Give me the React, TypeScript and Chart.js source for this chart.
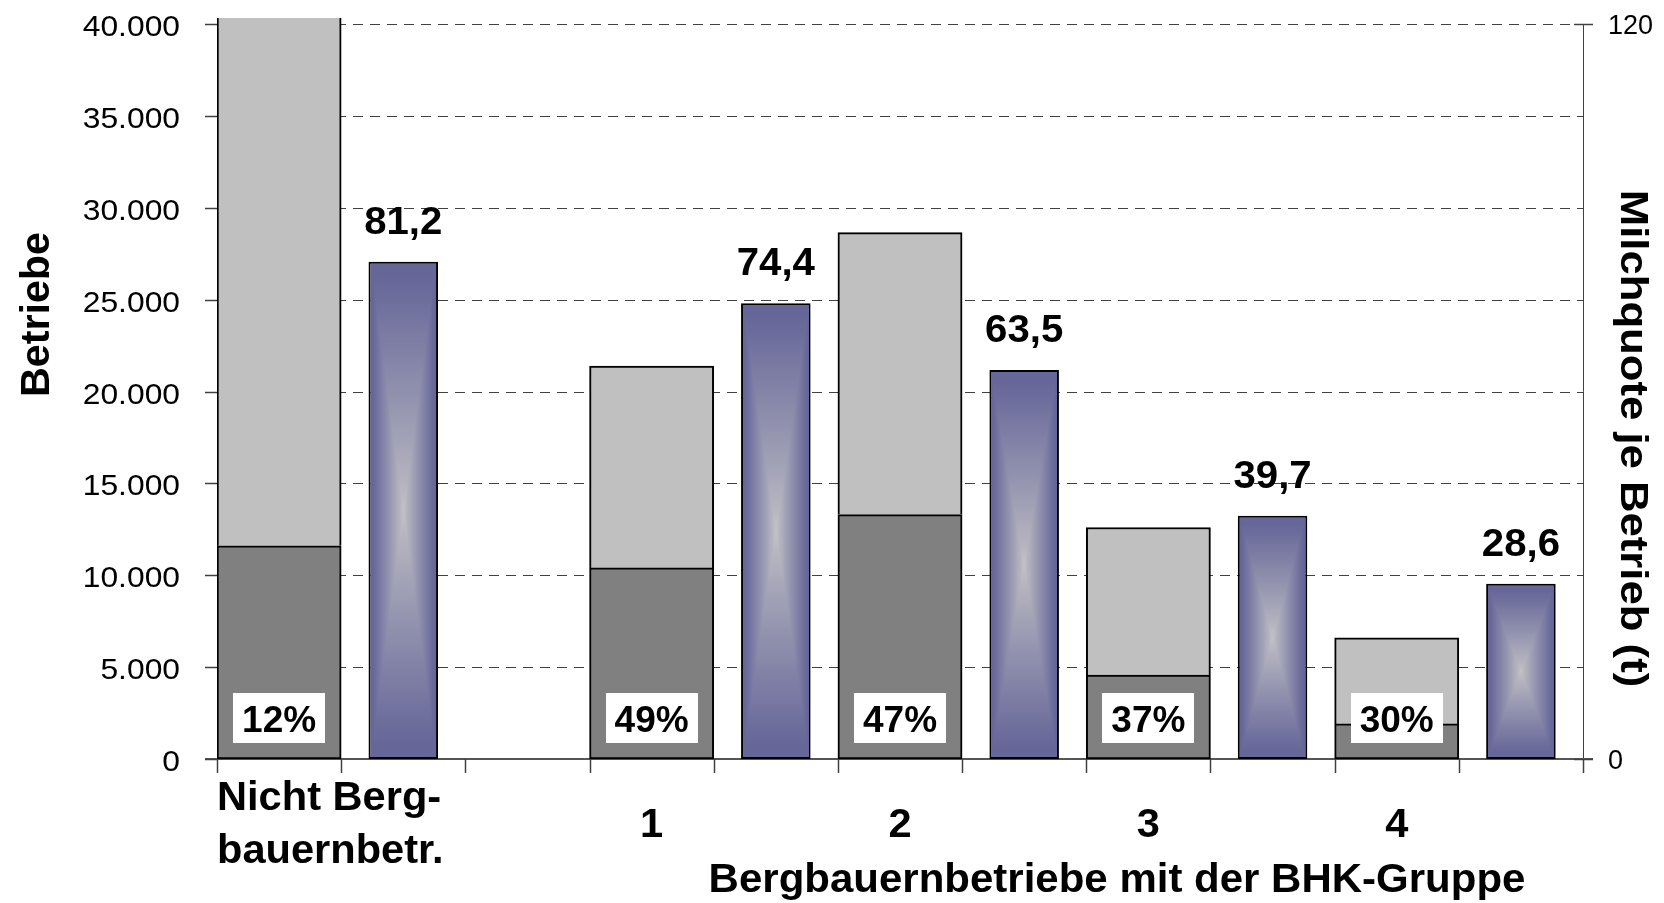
import React, { useEffect, useRef } from "react";
import { Chart, registerables } from "chart.js";

Chart.register(...registerables);

// ---------- data ----------
const groupLabels: string[][] = [["Nicht Berg-", "bauernbetr."], ["1"], ["2"], ["3"], ["4"]];
const betriebeMitMilch = [11600, 10400, 13300, 4570, 1910]; // dark grey part
const betriebeGesamt = [96700, 21380, 28650, 12600, 6600]; // total height of grey bar
const anteilLabels = ["12%", "49%", "47%", "37%", "30%"];
const milchquote = [81.2, 74.4, 63.5, 39.7, 28.6];
const leftTicks = [0, 5000, 10000, 15000, 20000, 25000, 30000, 35000, 40000];
const rightTicks = [0, 120];
const yTitle = "Betriebe";
const y2Title = "Milchquote je Betrieb (t)";
const xTitle = "Bergbauernbetriebe mit der BHK-Gruppe";

// category slots: each group = grey slot + blue slot, one empty slot after the first group
const greySlots = [0, 3, 5, 7, 9];
const SLOT_COUNT = 11;

const slotNames: string[] = Array.from({ length: SLOT_COUNT }, (_, i) => String(i));
const darkData: (number | null)[] = Array(SLOT_COUNT).fill(null);
const lightData: (number | null)[] = Array(SLOT_COUNT).fill(null);
const blueData: (number | null)[] = Array(SLOT_COUNT).fill(null);
greySlots.forEach((s, i) => {
  darkData[s] = betriebeMitMilch[i];
  lightData[s] = betriebeGesamt[i] - betriebeMitMilch[i];
  blueData[s + 1] = milchquote[i];
});

const FONT = '"Liberation Sans", Arial, Helvetica, sans-serif';

function fmtDE(v: number): string {
  const s = String(Math.round(v));
  return s.replace(/\B(?=(\d{3})+(?!\d))/g, ".");
}

function drawText(
  ctx: CanvasRenderingContext2D,
  s: string,
  x: number,
  y: number,
  size: number,
  bold: boolean,
  align: CanvasTextAlign,
  sx = 1,
  rot = 0,
  baseOff = 0
) {
  ctx.save();
  ctx.translate(x, y);
  if (rot) ctx.rotate(rot);
  ctx.scale(sx, 1);
  ctx.font = `${bold ? "bold " : ""}${size}px ${FONT}`;
  ctx.textAlign = align;
  ctx.textBaseline = "alphabetic";
  ctx.fillStyle = "#000";
  ctx.fillText(s, 0, baseOff);
  ctx.restore();
}

const AXIS_COLOR = "#404040";

const decorPlugin = {
  id: "decor",
  beforeDatasetsDraw(chart: any) {
    const ctx: CanvasRenderingContext2D = chart.ctx;
    const { left, right, bottom, top } = chart.chartArea;
    const ys = chart.scales.y;
    ctx.save();
    // dashed grid lines
    ctx.strokeStyle = AXIS_COLOR;
    ctx.lineWidth = 1;
    ctx.setLineDash([10, 7]);
    leftTicks.forEach((v) => {
      if (v === 0) return;
      const py = Math.round(ys.getPixelForValue(v)) + 0.5;
      ctx.beginPath();
      ctx.moveTo(left, py);
      ctx.lineTo(right, py);
      ctx.stroke();
    });
    ctx.setLineDash([]);
    // left axis line
    ctx.beginPath();
    ctx.moveTo(left + 0.5, top);
    ctx.lineTo(left + 0.5, bottom);
    ctx.stroke();
    // right axis line
    ctx.beginPath();
    ctx.moveTo(Math.round(right) + 0.5, top);
    ctx.lineTo(Math.round(right) + 0.5, bottom);
    ctx.stroke();
    // x axis line
    ctx.lineWidth = 2;
    ctx.strokeStyle = "#555";
    ctx.beginPath();
    ctx.moveTo(left - 12, Math.round(bottom));
    ctx.lineTo(right + 10, Math.round(bottom));
    ctx.stroke();
    ctx.restore();
  },
  afterDatasetsDraw(chart: any) {
    const ctx: CanvasRenderingContext2D = chart.ctx;
    const { left, right, bottom, top } = chart.chartArea;
    const xs = chart.scales.x;
    const ys = chart.scales.y;
    const y2 = chart.scales.y2;

    // gradient fill for the Milchquote bars (rectangular "from center" gradient)
    const meta = chart.getDatasetMeta(2);
    const dark = [102, 102, 153];
    const light = [194, 194, 198];
    meta.data.forEach((el: any, i: number) => {
      if (blueData[i] == null) return;
      const p = el.getProps(["x", "y", "base", "width"], true);
      const bw = 2;
      const L = Math.round(p.x - p.width / 2 + bw);
      const R = Math.round(p.x + p.width / 2 - bw);
      const T = Math.round(p.y + bw);
      const B = Math.round(p.base - bw);
      const w = R - L;
      const h = B - T;
      if (w <= 0 || h <= 0) return;
      const off = document.createElement("canvas");
      off.width = w;
      off.height = h;
      const octx = off.getContext("2d")!;
      const img = octx.createImageData(w, h);
      for (let yy = 0; yy < h; yy++) {
        const dy = Math.abs(yy + 0.5 - h / 2) / (h / 2);
        for (let xx = 0; xx < w; xx++) {
          const dx = Math.abs(xx + 0.5 - w / 2) / (w / 2);
          let t = Math.max(dx, dy);
          t = Math.min(1, Math.pow(t, 0.9) * 1.05);
          const k = (yy * w + xx) * 4;
          img.data[k] = light[0] + (dark[0] - light[0]) * t;
          img.data[k + 1] = light[1] + (dark[1] - light[1]) * t;
          img.data[k + 2] = light[2] + (dark[2] - light[2]) * t;
          img.data[k + 3] = 255;
        }
      }
      octx.putImageData(img, 0, 0);
      ctx.drawImage(off, L, T);
    });

    ctx.save();
    ctx.strokeStyle = AXIS_COLOR;
    ctx.lineWidth = 1.5;
    // left axis ticks + labels
    leftTicks.forEach((v) => {
      const py = Math.round(ys.getPixelForValue(v));
      ctx.beginPath();
      ctx.moveTo(left - 12, py + 0.5);
      ctx.lineTo(left, py + 0.5);
      ctx.stroke();
      drawText(ctx, fmtDE(v), left - 37, py + 11.5, 30, false, "right", 1.06);
    });
    // right axis ticks + labels
    rightTicks.forEach((v) => {
      const py = Math.round(y2.getPixelForValue(v));
      ctx.beginPath();
      ctx.moveTo(right - 9, py + 0.5);
      ctx.lineTo(right + 10, py + 0.5);
      ctx.stroke();
      drawText(ctx, String(v), right + 25, py + 10, 27, false, "left");
    });
    // x axis tick marks at slot boundaries
    const slotW = xs.getPixelForValue(1) - xs.getPixelForValue(0);
    ctx.lineWidth = 1.5;
    for (let i = 0; i <= SLOT_COUNT; i++) {
      const px = Math.round(xs.getPixelForValue(0) - slotW / 2 + i * slotW) + 0.5;
      ctx.beginPath();
      ctx.moveTo(px, bottom);
      ctx.lineTo(px, bottom + 14);
      ctx.stroke();
    }
    ctx.restore();

    // percentage boxes, value labels, category labels
    greySlots.forEach((s, i) => {
      const cx = xs.getPixelForValue(s);
      ctx.fillStyle = "#fff";
      ctx.fillRect(Math.round(cx - 46), Math.round(bottom - 66.5), 92, 50);
      drawText(ctx, anteilLabels[i], cx, bottom - 27.5, 37, true, "center");
      const bx = xs.getPixelForValue(s + 1);
      const by = y2.getPixelForValue(milchquote[i]);
      drawText(ctx, milchquote[i].toFixed(1).replace(".", ","), bx, by - 28, 39, true, "center", 1.03);
      const lines = groupLabels[i];
      if (lines.length > 1) {
        const lx = xs.getPixelForValue(s) - slotW / 2;
        drawText(ctx, lines[0], lx, bottom + 51, 40, true, "left", 1.04);
        drawText(ctx, lines[1], lx, bottom + 104, 40, true, "left", 1.04);
      } else {
        drawText(ctx, lines[0], cx, bottom + 78, 40, true, "center", 1.04);
      }
    });

    // axis titles
    drawText(ctx, xTitle, left + 900, bottom + 133, 40, true, "center", 1.05);
    drawText(ctx, yTitle, 35, (top + bottom) / 2 - 77, 40, true, "center", 1.03, -Math.PI / 2, 0.358 * 40);
    drawText(ctx, y2Title, right + 52, (top + bottom) / 2 + 47, 39, true, "center", 1.12, Math.PI / 2, 0.358 * 39);
  },
};

export default function App() {
  const ref = useRef<HTMLCanvasElement | null>(null);
  useEffect(() => {
    if (!ref.current) return;
    const common = {
      borderColor: "#000",
      borderWidth: 2,
      categoryPercentage: 1,
      skipNull: true,
      clip: { left: 0, right: 0, top: 6, bottom: 2 },
    };
    const chart = new Chart(ref.current, {
      type: "bar",
      data: {
        labels: slotNames,
        datasets: [
          {
            ...common,
            label: "Betriebe mit Milchquote",
            data: darkData,
            yAxisID: "y",
            stack: "g",
            backgroundColor: "#808080",
            borderSkipped: false,
            barPercentage: 1,
          } as any,
          {
            ...common,
            label: "Betriebe gesamt",
            data: lightData,
            yAxisID: "y",
            stack: "g",
            backgroundColor: "#C0C0C0",
            borderSkipped: "start",
            barPercentage: 1,
          } as any,
          {
            ...common,
            label: "Milchquote je Betrieb",
            data: blueData,
            yAxisID: "y2",
            stack: "b",
            backgroundColor: "#666699",
            borderSkipped: false,
            barPercentage: 0.56,
          } as any,
        ],
      },
      options: {
        responsive: false,
        maintainAspectRatio: false,
        animation: false,
        layout: { padding: { left: 217, right: 81, top: 24, bottom: 144 } },
        plugins: { legend: { display: false }, tooltip: { enabled: false } },
        scales: {
          x: { display: false, stacked: true },
          y: { display: false, stacked: true, min: 0, max: 40000 },
          y2: { display: false, position: "right", min: 0, max: 120 },
        },
      },
      plugins: [decorPlugin],
    } as any);
    return () => chart.destroy();
  }, []);
  return (
    <div style={{ position: "fixed", left: 0, top: 0, width: 1664, height: 903, background: "#fff" }}>
      <canvas ref={ref} width={1664} height={903} style={{ display: "block" }} />
    </div>
  );
}
